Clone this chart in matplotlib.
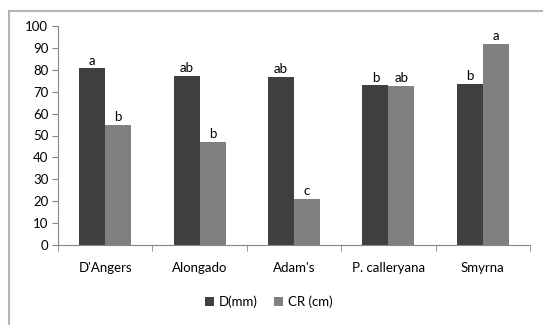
import numpy as np
import matplotlib
matplotlib.use("Agg")
from matplotlib import pyplot as plt
from matplotlib.lines import Line2D

categories = ["D'Angers", "Alongado", "Adam's", "P. calleryana", "Smyrna"]
d_mm = [80.6, 77.1, 76.6, 72.9, 73.5]
cr_cm = [54.9, 47.2, 21.1, 72.5, 91.7]
d_letters = ["a", "ab", "ab", "b", "b"]
cr_letters = ["b", "b", "c", "ab", "a"]

plt.rcParams['font.family'] = ['Lato', 'DejaVu Sans']
fs = 9.5

fig = plt.figure(figsize=(5.43, 3.25), dpi=100, facecolor='white')
ax = fig.add_axes([58 / 543, 1 - 245 / 325, 472 / 543, 219 / 325])

x = np.arange(len(categories))
w = 0.275
b1 = ax.bar(x - w / 2, d_mm, w, color='#404040', label='D(mm)')
b2 = ax.bar(x + w / 2, cr_cm, w, color='#808080', label='CR (cm)')

# letras de significancia
for bar, t in zip(b1, d_letters):
    ax.text(bar.get_x() + bar.get_width() / 2, bar.get_height() + 0.8, t,
            ha='center', va='bottom', fontsize=fs)
for bar, t in zip(b2, cr_letters):
    ax.text(bar.get_x() + bar.get_width() / 2, bar.get_height() + 0.8, t,
            ha='center', va='bottom', fontsize=fs)

ax.set_xlim(-0.5, len(categories) - 0.5)
ax.set_ylim(0, 100)
ax.set_yticks(range(0, 101, 10))
ax.set_xticks(x)
ax.set_xticklabels(categories, fontsize=fs)
ax.set_xticks(np.arange(-0.5, len(categories)), minor=True)
ax.tick_params(axis='x', which='major', length=0, pad=12)
ax.tick_params(axis='x', which='minor', length=4, color='#868686')
ax.tick_params(axis='y', length=4, color='#868686', labelsize=fs, pad=3)
for s in ['top', 'right']:
    ax.spines[s].set_visible(False)
for s in ['left', 'bottom']:
    ax.spines[s].set_color('#868686')

fig.legend(loc='center', bbox_to_anchor=(0.495, 1 - 302 / 325), ncol=2,
           frameon=False, fontsize=fs, handlelength=0.7, handleheight=0.7,
           handletextpad=0.4, columnspacing=1.2)

# marco exterior
fig.add_artist(Line2D([8.5 / 543, 8.5 / 543], [0, 1 - 10.5 / 325],
                      transform=fig.transFigure, color='#b4b4b4', lw=1.5))
fig.add_artist(Line2D([8.5 / 543, 1], [1 - 10.5 / 325, 1 - 10.5 / 325],
                      transform=fig.transFigure, color='#b4b4b4', lw=1.5))

plt.savefig('out.png', dpi=100)
